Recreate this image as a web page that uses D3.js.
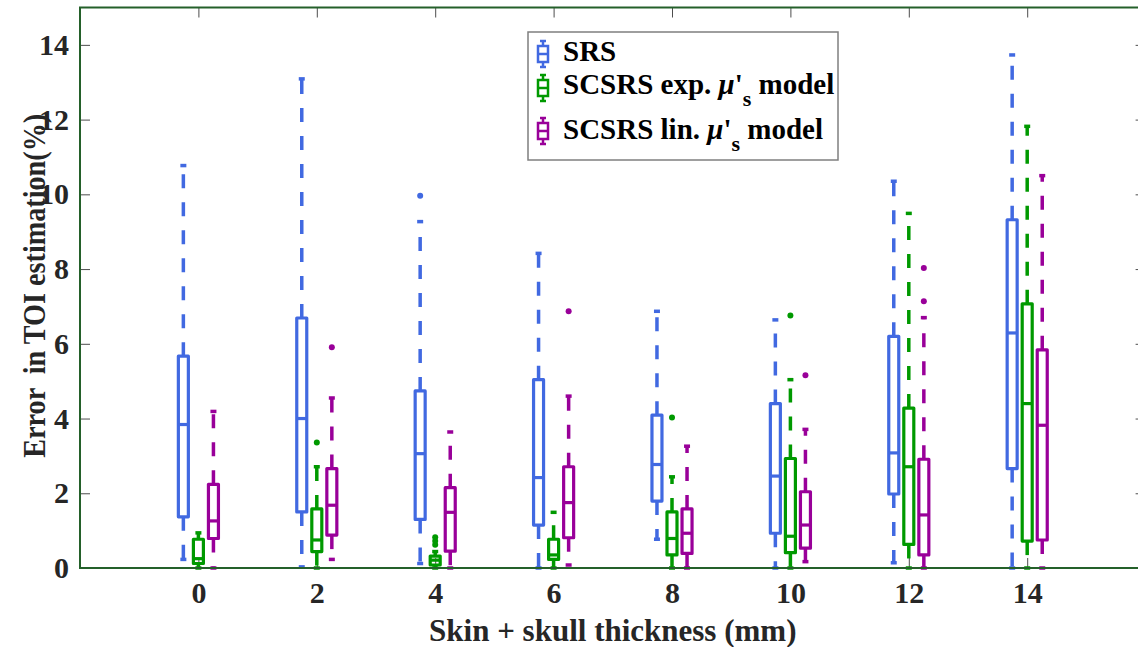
<!DOCTYPE html>
<html>
<head>
<meta charset="utf-8">
<script src="https://cdn.jsdelivr.net/npm/d3@7"></script>
<style>
  body { margin: 0; background: #fff; }
  text { font-family: "Liberation Serif", "Times New Roman", serif; font-weight: bold; fill: #262626; }
</style>
</head>
<body>
<div id="chart"></div>
<script>
// Data //////////////////////////////////////////////////////////////////
// Skin + skull thickness (mm), one group per thickness
const thickness = [0, 2, 4, 6, 8, 10, 12, 14];
const seriesNames = ['SRS', 'SCSRS exp.', 'SCSRS lin.'];

// SRS
const srsHigh   = [10.77, 13.09, 9.27, 8.42, 6.87, 6.64, 10.35, 13.73];
const srsQ3     = [5.67, 6.69, 4.74, 5.04, 4.09, 4.40, 6.20, 9.32];
const srsMedian = [3.84, 4.00, 3.06, 2.42, 2.77, 2.46, 3.08, 6.29];
const srsQ1     = [1.37, 1.50, 1.30, 1.15, 1.79, 0.93, 1.98, 2.66];
const srsLow    = [0.23, 0.03, 0.12, 0.00, 0.77, 0.00, 0.14, 0.00];
const srsOutliers = [[], [], [9.96], [], [], [], [], []];

// SCSRS exp. mu's model
const expHigh   = [0.94, 2.71, 0.44, 1.49, 2.44, 5.04, 9.49, 11.82];
const expQ3     = [0.77, 1.58, 0.32, 0.77, 1.50, 2.93, 4.28, 7.07];
const expMedian = [0.25, 0.75, 0.21, 0.35, 0.79, 0.85, 2.71, 4.40];
const expQ1     = [0.12, 0.44, 0.08, 0.23, 0.35, 0.41, 0.63, 0.72];
const expLow    = [0.00, 0.00, 0.00, 0.00, 0.00, 0.00, 0.00, 0.00];
const expOutliers = [[], [3.36], [0.62, 0.72, 0.82], [], [4.03], [6.76], [], []];

// SCSRS lin. mu's model
const linHigh   = [4.19, 4.55, 3.64, 4.60, 3.26, 3.71, 6.70, 10.50];
const linQ3     = [2.24, 2.66, 2.15, 2.71, 1.58, 2.04, 2.91, 5.84];
const linMedian = [1.26, 1.68, 1.49, 1.75, 0.93, 1.15, 1.42, 3.82];
const linQ1     = [0.79, 0.88, 0.45, 0.81, 0.39, 0.53, 0.35, 0.75];
const linLow    = [0.00, 0.23, 0.00, 0.08, 0.00, 0.17, 0.00, 0.00];
const linOutliers = [[], [5.91], [], [6.87], [], [5.16], [7.14, 8.03], []];

const yTicks = [0, 2, 4, 6, 8, 10, 12, 14];

// Build one record per box
const seriesColors = ['#4169E1', '#009900', '#990099'];
const seriesStats = [
  [srsHigh, srsQ3, srsMedian, srsQ1, srsLow, srsOutliers],
  [expHigh, expQ3, expMedian, expQ1, expLow, expOutliers],
  [linHigh, linQ3, linMedian, linQ1, linLow, linOutliers]
];
const boxes = [];
seriesStats.forEach((s, k) => {
  thickness.forEach((t, i) => {
    boxes.push({
      series: k, group: i,
      high: s[0][i], q3: s[1][i], median: s[2][i], q1: s[3][i], low: s[4][i],
      outliers: s[5][i]
    });
  });
});

// Chart /////////////////////////////////////////////////////////////////
const width = 1138, height = 647;
const margin = {top: 7.5, left: 80, bottom: 79};
const plotRight = 1145.6; // right spine sits just outside the picture

const svg = d3.select('#chart').append('svg')
  .attr('width', width)
  .attr('height', height);

// x is in group position units: groups at 1..8, axis runs 0..9
const x = d3.scaleLinear().domain([0, 9]).range([margin.left, plotRight]);
const y = d3.scaleLinear().domain([0, 15]).range([height - margin.bottom, margin.top]);
const offset = d3.scalePoint().domain([0, 1, 2]).range([-0.127, 0.127]);

const axisColor = '#24602a';

// ticks (inward, MATLAB style)
const xAxis = svg.append('g')
  .attr('transform', `translate(0,${y(0)})`)
  .call(d3.axisBottom(x)
    .tickValues(thickness.map((d, i) => i + 1))
    .tickFormat((d, i) => thickness[i])
    .tickSize(-10)
    .tickPadding(14));
xAxis.selectAll('text').style('font-size', '30px');

const xAxisTop = svg.append('g')
  .attr('transform', `translate(0,${y(15)})`)
  .call(d3.axisTop(x)
    .tickValues(thickness.map((d, i) => i + 1))
    .tickFormat('')
    .tickSize(-10));

const yAxis = svg.append('g')
  .attr('transform', `translate(${margin.left},0)`)
  .call(d3.axisLeft(y)
    .tickValues(yTicks)
    .tickSize(-10)
    .tickPadding(11));
yAxis.selectAll('text').style('font-size', '30px');

const yAxisRight = svg.append('g')
  .attr('transform', `translate(${plotRight},0)`)
  .call(d3.axisRight(y)
    .tickValues(yTicks)
    .tickFormat('')
    .tickSize(-10));

svg.selectAll('.domain').remove();
svg.selectAll('.tick line').attr('stroke', '#4d4d4d');

// Boxes /////////////////////////////////////////////////////////////////
const boxHalf = 5;
const capHalf = 3;

const boxG = svg.append('g')
  .selectAll('g')
  .data(boxes)
  .enter().append('g')
  .attr('stroke', d => seriesColors[d.series])
  .attr('fill', 'none');

boxG.each(function(d) {
  const g = d3.select(this);
  const cx = x(d.group + 1 + offset(d.series));

  // whiskers, dashed from box edge outwards
  g.append('line')
    .attr('x1', cx).attr('x2', cx)
    .attr('y1', y(d.q3)).attr('y2', y(d.high))
    .attr('stroke-width', 3.5)
    .attr('stroke-dasharray', '14,14');
  g.append('line')
    .attr('x1', cx).attr('x2', cx)
    .attr('y1', y(d.q1)).attr('y2', y(d.low))
    .attr('stroke-width', 3.5)
    .attr('stroke-dasharray', '14,14');

  // caps
  [d.high, d.low].forEach(v => {
    g.append('line')
      .attr('x1', cx - capHalf).attr('x2', cx + capHalf)
      .attr('y1', y(v)).attr('y2', y(v))
      .attr('stroke-width', 3.5);
  });

  // box and median
  g.append('rect')
    .attr('x', cx - boxHalf)
    .attr('width', boxHalf * 2)
    .attr('y', y(d.q3))
    .attr('height', y(d.q1) - y(d.q3))
    .attr('stroke-width', 3.2)
    .attr('stroke-linejoin', 'round');
  g.append('line')
    .attr('x1', cx - boxHalf).attr('x2', cx + boxHalf)
    .attr('y1', y(d.median)).attr('y2', y(d.median))
    .attr('stroke-width', 3.2);

  // outliers
  g.selectAll('circle')
    .data(d.outliers)
    .enter().append('circle')
    .attr('cx', cx)
    .attr('cy', v => y(v))
    .attr('r', 3)
    .attr('stroke', 'none')
    .attr('fill', seriesColors[d.series]);
});

// Frame (drawn over the boxes like MATLAB's axes box)
svg.append('rect')
  .attr('x', margin.left)
  .attr('y', y(15))
  .attr('width', plotRight - margin.left)
  .attr('height', y(0) - y(15))
  .attr('fill', 'none')
  .attr('stroke', axisColor)
  .attr('stroke-width', 2);

// Axis labels ///////////////////////////////////////////////////////////
svg.append('text')
  .attr('x', (margin.left + plotRight) / 2)
  .attr('y', 641)
  .attr('text-anchor', 'middle')
  .style('font-size', '31px')
  .text('Skin + skull thickness (mm)');

svg.append('text')
  .attr('transform', `translate(45,${(y(0) + y(15)) / 2 - 2}) rotate(-90)`)
  .attr('text-anchor', 'middle')
  .attr('textLength', 344)
  .attr('lengthAdjust', 'spacingAndGlyphs')
  .style('font-size', '31px')
  .style('white-space', 'pre')
  .text('Error  in TOI estimation(%)');

// Legend ////////////////////////////////////////////////////////////////
const legend = svg.append('g');
legend.append('rect')
  .attr('x', 528).attr('y', 32)
  .attr('width', 310).attr('height', 128)
  .attr('fill', '#fff')
  .attr('stroke', '#7f7f7f')
  .attr('stroke-width', 1.5);

const legendRows = [
  {label: 'SRS', model: null, cy: 54, base: 61},
  {label: 'SCSRS exp. ', model: true, cy: 88, base: 94},
  {label: 'SCSRS lin. ', model: true, cy: 131, base: 139}
];

legendRows.forEach((r, k) => {
  const icon = legend.append('g')
    .attr('stroke', seriesColors[k])
    .attr('fill', 'none')
    .attr('stroke-width', 2.5);
  const ix = 543;
  icon.append('line').attr('x1', ix).attr('x2', ix).attr('y1', r.cy - 13).attr('y2', r.cy + 13);
  icon.append('line').attr('x1', ix - 3).attr('x2', ix + 3).attr('y1', r.cy - 13).attr('y2', r.cy - 13);
  icon.append('line').attr('x1', ix - 3).attr('x2', ix + 3).attr('y1', r.cy + 13).attr('y2', r.cy + 13);
  icon.append('rect').attr('x', ix - 5).attr('y', r.cy - 8).attr('width', 10).attr('height', 16)
    .attr('fill', '#fff');
  icon.append('line').attr('x1', ix - 5).attr('x2', ix + 5).attr('y1', r.cy).attr('y2', r.cy);

  const t = legend.append('text')
    .attr('x', 563)
    .attr('y', r.base)
    .style('font-size', '29px')
    .style('white-space', 'pre')
    .style('fill', '#000');
  t.append('tspan').text(r.label);
  if (r.model) {
    t.append('tspan').style('font-style', 'italic').text('\u03bc');
    t.append('tspan').text('\'');
    t.append('tspan').attr('dy', 12).style('font-size', '22px').text('s');
    t.append('tspan').attr('dy', -12).text(' model');
  }
});
</script>
</body>
</html>
